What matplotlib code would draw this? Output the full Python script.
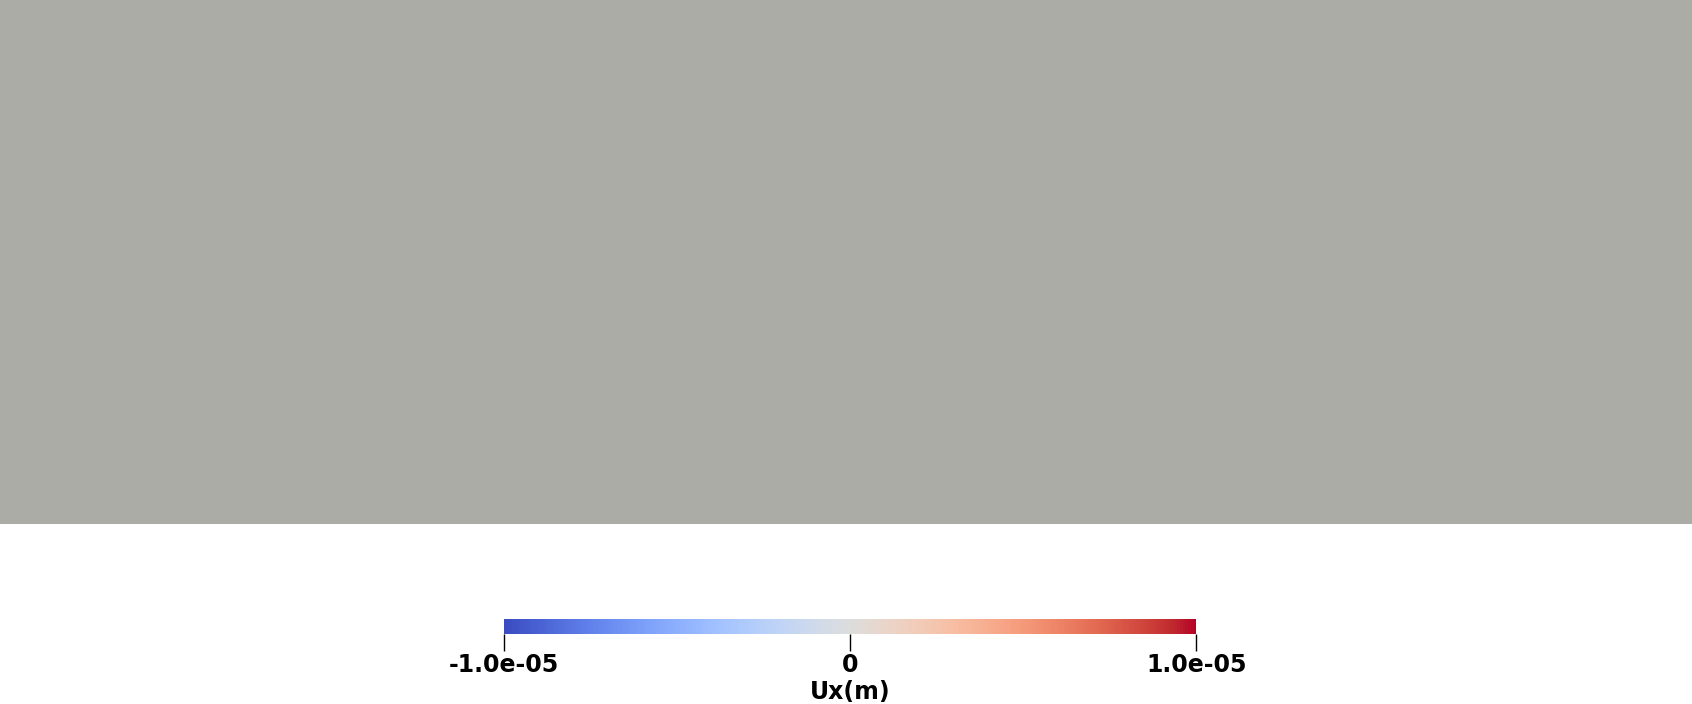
import matplotlib as mpl
import matplotlib.pyplot as plt

vmin = -1.0e-05
vmax = 1.0e-05
tick_vals = [-1.0e-05, 0, 1.0e-05]
tick_labels = ["-1.0e-05", "0", "1.0e-05"]
bar_label = "Ux(m)"

fig = plt.figure(figsize=(16.92, 7.04), dpi=100)

# grey field (uniform)
ax = fig.add_axes([0, 0.256, 1, 0.744])
ax.set_facecolor("#abaca6")
ax.set_xticks([])
ax.set_yticks([])
for s in ax.spines.values():
    s.set_visible(False)

cax = fig.add_axes([0.298, 0.0997, 0.409, 0.0215])
norm = mpl.colors.Normalize(vmin=vmin, vmax=vmax)
cb = fig.colorbar(mpl.cm.ScalarMappable(norm=norm, cmap="coolwarm"),
                  cax=cax, orientation="horizontal", ticks=tick_vals)
cb.outline.set_visible(False)
cax.set_xticklabels(tick_labels, fontsize=17, fontweight="bold")
cax.tick_params(axis="x", length=12, width=1, pad=2)
cb.set_label(bar_label, fontsize=17, fontweight="bold", labelpad=2)

fig.savefig("out.png")
